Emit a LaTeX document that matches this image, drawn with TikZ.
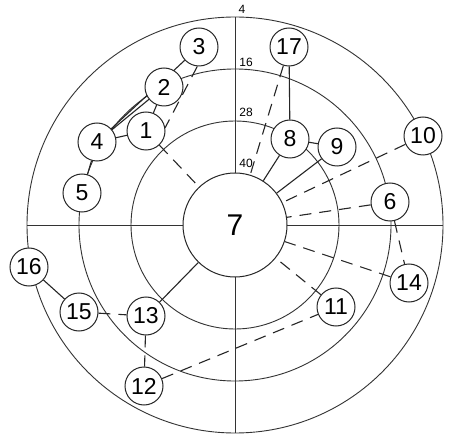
\documentclass[tikz,border=0pt]{standalone}
\usepackage{fontspec}
\setmainfont{Liberation Sans}
\pgfdeclarelayer{ringlayer}
\pgfdeclarelayer{linklayer}
\pgfsetlayers{ringlayer,linklayer,main}
\begin{document}
\begin{tikzpicture}[x=1pt,y=-1pt,
  ring/.style={draw=black!80, line width=0.9pt},
  num/.style={circle, draw=black!85, line width=1pt, fill=white, minimum size=38pt, inner sep=0pt, font=\fontsize{23}{23}\selectfont},
  hub/.style={circle, draw=black!85, line width=1pt, fill=white, minimum size=104pt, inner sep=0pt, font=\fontsize{30}{30}\selectfont},
  solidlink/.style={draw=black!85, line width=1.1pt},
  dashlink/.style={draw=black!85, line width=1.1pt, dash pattern=on 12pt off 8pt},
  lvl/.style={font=\fontsize{12}{12}\selectfont, inner sep=0pt}
]
\begin{pgfonlayer}{ringlayer}
\useasboundingbox (0,0) rectangle (457,443);
\fill[white] (0,0) rectangle (457,443);
\coordinate (c) at (235,225);
% rings
\draw[ring] (c) circle[radius=208pt];
\draw[ring] (c) circle[radius=156pt];
\draw[ring] (c) circle[radius=104pt];
% axes
\draw[ring] (27,225) -- (443,225);
\draw[ring] (235,17) -- (235,433);
\end{pgfonlayer}
% level labels
\node[lvl] (l4) at (242,9) {4};
\node[lvl] (l16) at (246,62) {16};
\node[lvl] (l28) at (246,112) {28};
\node[lvl] (l40) at (246,163) {40};
% nodes
\node[hub] (n7) at (c) {7};
\node[num] (n1) at (146,131) {1};
\node[num] (n2) at (164,87) {2};
\node[num] (n3) at (199,47) {3};
\node[num] (n4) at (97,142) {4};
\node[num] (n5) at (82,193) {5};
\node[num] (n6) at (390,202) {6};
\node[num] (n8) at (290,139) {8};
\node[num] (n9) at (337,147) {9};
\node[num] (n10) at (423,136) {10};
\node[num] (n11) at (336,307) {11};
\node[num] (n12) at (144,386) {12};
\node[num] (n13) at (146,316) {13};
\node[num] (n14) at (409,283) {14};
\node[num] (n15) at (79,312) {15};
\node[num] (n16) at (29,267) {16};
\node[num] (n17) at (289,47) {17};
% connectors
\begin{pgfonlayer}{linklayer}
\draw[solidlink] (n4) -- (n2);
\draw[solidlink] (n4.center) -- (n3);
\draw[solidlink] (n2) -- (n1);
\draw[solidlink] (n4) -- (n1);
\draw[solidlink] (n4) -- (n5);
\draw[solidlink] (n16) -- (n15);
\draw[solidlink] (n13) -- (n7);
\draw[solidlink] (n17) -- (n8);
\draw[solidlink] (n8) -- (n9);
\draw[solidlink] (n8) -- (n7);
\draw[solidlink] (n9) -- (n7);
\draw[dashlink] (n3.265) -- (n1.10);
\draw[dashlink] (n1) -- (n7);
\draw[dashlink] (n17) -- (n7);
\draw[dashlink] (n10) -- (n7);
\draw[dashlink] (n6) -- (n7);
\draw[dashlink] (n14) -- (n7);
\draw[dashlink] (n6) -- (n14);
\draw[dashlink] (n11) -- (n7);
\draw[dashlink] (n12) -- (n11);
\draw[dashlink] (n13) -- (n12);
\draw[dashlink] (n15) -- (n13);
\end{pgfonlayer}
\end{tikzpicture}
\end{document}
